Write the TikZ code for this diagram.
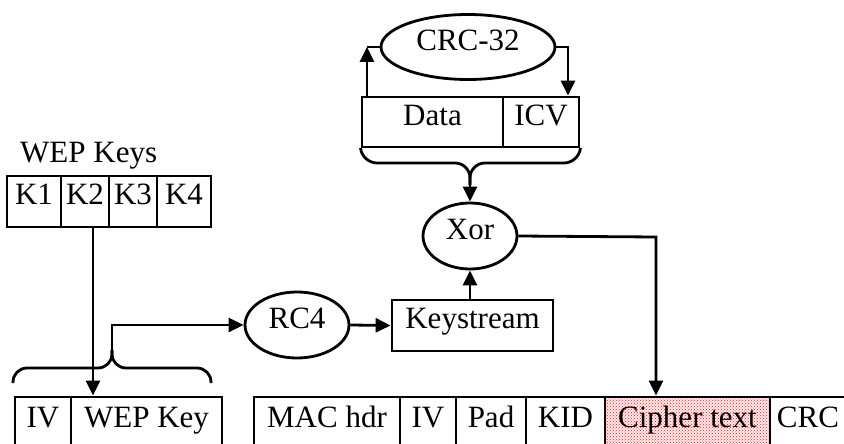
\documentclass[tikz,border=0pt]{standalone}
\usepackage{fontspec}
\setmainfont{Liberation Serif}
\usetikzlibrary{shapes.geometric,arrows.meta,patterns}
\begin{document}
\begin{tikzpicture}[x=1pt,y=-1pt,
  every node/.style={font=\fontsize{31}{36}\selectfont, inner sep=0pt},
  ln/.style={line width=2.8pt},
  arr/.style={ln,-{Triangle[length=15pt,width=14pt]}},
  bx/.style={draw, ln, rectangle, text height=0.66em, text depth=0pt},
  ell/.style={draw, ln, ellipse, text height=0.66em, text depth=0pt},
  cipherfill/.style={preaction={fill=red!8}, pattern=crosshatch dots, pattern color=red!90}
]
\useasboundingbox (0,0) rectangle (844,444);
\clip (0,0) rectangle (844,444);
\fill[white] (0,0) rectangle (844,444);

% CRC-32 and Data/ICV
\node[ell, minimum width=174, minimum height=65] (crc32) at (468,47) {CRC-32};
\node[bx, minimum width=141, minimum height=50] (data) at (432.5,122) {Data};
\node[bx, minimum width=76, minimum height=50] (icv) at (541,122) {ICV};
\coordinate (cl) at (367,47);
\coordinate (cr) at (568,47);
\draw[arr] (data.north -| cl) -- (cl);
\draw[ln] (cl) -- (crc32.west);
\draw[arr] (crc32.east) -- (cr) -- (icv.north -| cr);

% brace under Data/ICV
\coordinate (tb) at (470,185);
\draw[ln, rounded corners=15pt] (data.south west) -- (362,163) -- (470,163) -- (tb);
\draw[ln, rounded corners=15pt] (icv.south east) -- (579,163) -- (470,163) -- (tb);

% Xor
\node[ell, minimum width=94, minimum height=66] (xor) at (470,236) {Xor};
\draw[arr] (tb) -- (xor.north);

% Keystream and RC4
\node[bx, minimum width=161, minimum height=51] (ks) at (472.5,325.5) {Keystream};
\node[ell, minimum width=104, minimum height=66] (rc4) at (297,325) {RC4};
\draw[arr] (rc4.east) -- (ks.west);
\draw[arr] (ks.north -| xor.south) -- (xor.south);

% WEP keys
\node[anchor=base west] (wepkeys) at (20,162) {WEP Keys};
\node[bx, minimum width=54, minimum height=51] (k1) at (34,201.5) {K1};
\node[bx, minimum width=48, minimum height=51] (k2) at (85,201.5) {K2};
\node[bx, minimum width=48, minimum height=51] (k3) at (133,201.5) {K3};
\node[bx, minimum width=54, minimum height=51] (k4) at (184,201.5) {K4};

% IV / WEP Key
\node[bx, minimum width=56, minimum height=54] (iv1) at (43,424) {IV};
\node[bx, minimum width=151, minimum height=54] (wk) at (146.5,424) {WEP Key};
\coordinate (kd) at (93,0);
\draw[arr] (k2.south -| kd) -- (wk.north -| kd);

% brace over IV / WEP Key
\coordinate (bt) at (112,350);
\draw[ln, rounded corners=14pt] (13,383) -- (13,368) -- (112,368) -- (bt);
\draw[ln, rounded corners=14pt] (211,383) -- (211,368) -- (112,368) -- (bt);
\coordinate (bc) at (112,325);
\draw[arr] (bt) -- (bc) -- (rc4.west);

% frame
\node[bx, minimum width=146, minimum height=54] (mac) at (327,424) {MAC hdr};
\node[bx, minimum width=56, minimum height=54] (iv2) at (428,424) {IV};
\node[bx, minimum width=70, minimum height=54] (pad) at (491,424) {Pad};
\node[bx, minimum width=79, minimum height=54] (kid) at (565.5,424) {KID};
\node[bx, cipherfill, minimum width=165, minimum height=54] (cipher) at (687.5,424) {Cipher text};
\node[bx, minimum width=76, minimum height=54] (crc) at (808,424) {CRC};

% Xor to cipher text
\coordinate (xc) at (656,237);
\draw[arr] (xor.east) -- (xc) -- (cipher.north -| xc);
\end{tikzpicture}
\end{document}
